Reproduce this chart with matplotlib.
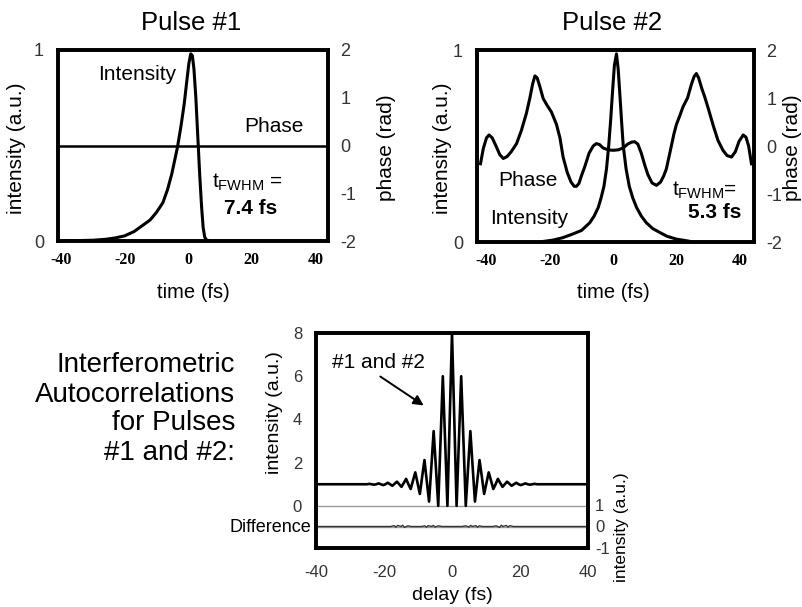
import matplotlib
matplotlib.use("Agg")
import matplotlib.pyplot as plt

plt.rcParams['font.family'] = ['Liberation Sans', 'DejaVu Sans']
plt.rcParams['mathtext.fontset'] = 'custom'
plt.rcParams['mathtext.rm'] = 'Liberation Sans'
plt.rcParams['mathtext.it'] = 'Liberation Sans'
plt.rcParams['axes.unicode_minus'] = False

# ---------------- data ----------------
# Pulse #1
p1_time = [-42, -35, -30, -26, -23, -20, -17, -14.5, -12, -10, -8, -6.5, -5.2, -4.3, -3.4, -2.3,
           -1.25, -0.5, 0.2, 0.8, 1.3, 1.8, 2.4, 3.0, 3.6, 4.2, 4.7, 5.2, 5.8, 7, 44]
p1_int = [0, 0.002, 0.004, 0.009, 0.016, 0.027, 0.05, 0.08, 0.11, 0.15, 0.2, 0.27, 0.35, 0.42, 0.49, 0.6,
          0.72, 0.83, 0.93, 0.98, 0.97, 0.9, 0.75, 0.55, 0.35, 0.18, 0.07, 0.02, 0.005, 0, 0]
p1_phase_t = [-41, 44]
p1_phase = [0, 0]

# Pulse #2
p2_time = [-22, -19, -16, -13, -11.5, -10, -8.7, -7.4, -6, -4.7, -3.8, -2.9, -2.1, -1.4, -0.8, -0.2,
           0.4, 1.05, 1.6, 2.2, 2.7, 3.2, 4.1, 5.1, 6.2, 7.4, 8.9, 10.5, 12.5, 14.7, 17, 20, 23.7]
p2_int = [0.003, 0.01, 0.022, 0.04, 0.05, 0.06, 0.08, 0.10, 0.135, 0.18, 0.23, 0.29, 0.38, 0.5, 0.63, 0.78,
          0.92, 0.98, 0.9, 0.75, 0.62, 0.5, 0.38, 0.29, 0.23, 0.18, 0.135, 0.10, 0.07, 0.05, 0.03, 0.015, 0.005]
p2_phase_t = [-41.9, -41.0, -40.0, -39.2, -38.2, -37.0, -35.8, -34.7, -33.5, -32.2, -30.5, -29.0, -27.4,
              -26.3, -25.4, -24.7, -24.0, -23.2, -22.1, -20.8, -19.5, -17.9, -16.8, -15.8, -14.5, -13.3,
              -12.3, -11.6, -10.8, -10.0, -8.9, -7.6, -6.3, -5.3, -4.3, -3.2, -1.6, 0, 1.6, 3.2, 4.6,
              5.8, 6.8, 7.8, 8.9, 10.0, 11.0, 12.3, 13.7, 15.0, 16.0, 16.8, 18.0, 19.2, 20.0, 21.0,
              22.1, 23.5, 24.8, 25.6, 26.3, 27.0, 28.0, 28.9, 30.2, 31.6, 33.1, 34.7, 36.0, 37.4,
              38.6, 39.8, 41.1, 42.0, 42.8, 43.7]
p2_phase = [-0.37, -0.05, 0.17, 0.23, 0.17, 0.0, -0.18, -0.26, -0.22, -0.12, 0.05, 0.32, 0.68,
            1.0, 1.3, 1.46, 1.42, 1.25, 0.99, 0.84, 0.71, 0.45, 0.17, -0.23, -0.55, -0.75,
            -0.84, -0.84, -0.78, -0.62, -0.42, -0.15, 0.0, 0.05, 0.03, -0.04, -0.08, -0.09, -0.08, -0.04, 0.04,
            0.08, 0.09, 0.04, -0.15, -0.40, -0.60, -0.77, -0.82, -0.75, -0.62, -0.48, -0.12, 0.25, 0.45, 0.62,
            0.82, 1.0, 1.3, 1.45, 1.51, 1.42, 1.2, 1.03, 0.75, 0.43, 0.12, -0.09, -0.2, -0.23,
            -0.12, 0.1, 0.23, 0.18, 0.0, -0.37]

# Interferometric autocorrelation (fringe extrema and mid-points)
ac_delay = [-40, -25.65, -24.975, -24.3, -23.625, -22.95, -22.275, -21.6, -20.925, -20.25, -19.575,
            -18.9, -18.225, -17.55, -16.875, -16.2, -15.525, -14.85, -14.175, -13.5, -12.825, -12.15,
            -11.475, -10.8, -10.125, -9.45, -8.775, -8.1, -7.425, -6.75, -6.075, -5.4, -4.725, -4.05,
            -3.375, -2.7, -2.025, -1.35, -0.675, 0, 0.675, 1.35, 2.025, 2.7, 3.375, 4.05, 4.725, 5.4,
            6.075, 6.75, 7.425, 8.1, 8.775, 9.45, 10.125, 10.8, 11.475, 12.15, 12.825, 13.5, 14.175,
            14.85, 15.525, 16.2, 16.875, 17.55, 18.225, 18.9, 19.575, 20.25, 20.925, 21.6, 22.275,
            22.95, 23.625, 24.3, 24.975, 25.65, 40]
ac_value = [1, 1, 1.0, 1.02, 1.0, 0.98, 1.0, 1.04, 1.0, 0.96, 1.0,
            1.07, 1.0, 0.93, 1.02, 1.12, 1.0, 0.88, 1.06, 1.25, 1.0, 0.78,
            1.17, 1.55, 1.05, 0.55, 1.35, 2.12, 1.15, 0.2, 1.8, 3.46, 1.75, 0.0,
            3.0, 6.0, 3.0, 0.0, 4.0, 8.0, 4.0, 0.0, 3.0, 6.0, 3.0, 0.0, 1.75, 3.46,
            1.8, 0.2, 1.15, 2.12, 1.35, 0.55, 1.05, 1.55, 1.17, 0.78, 1.0, 1.25, 1.06,
            0.88, 1.0, 1.12, 1.02, 0.93, 1.0, 1.07, 1.0, 0.96, 1.0, 1.04, 1.0,
            0.98, 1.0, 1.02, 1.0, 1, 1]

# Difference trace
diff_delay = [-40, -18, -17, -16.5, -16, -15, -14.5, -14, -13, -12, -9, -8, -7.5, -7, -6, -5.5, -5, -4, -3,
              3, 4, 5, 5.5, 6, 7, 7.5, 8, 9, 12, 13, 14, 14.5, 15, 16, 16.5, 17, 18, 40]
diff_value = [0, 0, 0.04, -0.03, 0.05, 0.0, 0.06, -0.04, 0.03, 0, 0, 0.03, -0.03, 0.04, 0.0, 0.05, -0.02, 0.03, 0,
              0, 0.03, -0.02, 0.05, 0.0, 0.04, -0.03, 0.03, 0, 0, 0.03, -0.04, 0.06, 0.0, 0.05, -0.03, 0.04, 0, 0]

x_ticks_top = [-40, -20, 0, 20, 40]
x_ticks_bot = [-40, -20, 0, 20, 40]

# ---------------- figure ----------------
W, H = 803, 607
fig = plt.figure(figsize=(W / 100, H / 100), dpi=100)


def rect(l, t, r, b):
    return [l / W, 1 - b / H, (r - l) / W, (b - t) / H]


def fx(px):
    return px / W


def fy(py):
    return 1 - py / H


TICKC = '#333333'
serif_bold = dict(family='Liberation Serif', weight='bold', size=11.5)


def top_panel(r, xlim):
    ax = fig.add_axes(r)
    ax2 = ax.twinx()
    ax.set_xlim(*xlim)
    ax.set_ylim(0, 1)
    ax2.set_ylim(-2, 2)
    ax.set_yticks([0, 1])
    ax2.set_yticks([-2, -1, 0, 1, 2])
    ax.set_xticks(x_ticks_top)
    ax.set_xticklabels([str(v) for v in x_ticks_top], fontdict=serif_bold)
    ax.tick_params(axis='x', length=0, pad=8, colors='black')
    ax.tick_params(axis='y', length=0, pad=10, labelsize=13, colors=TICKC)
    ax2.tick_params(axis='y', length=0, pad=9, labelsize=13, colors=TICKC)
    for a in (ax, ax2):
        for s in a.spines.values():
            s.set_linewidth(2.6)
            s.set_color('black')
    return ax, ax2


# Pulse #1
a1, a1p = top_panel(rect(58, 50, 328, 241), (-41, 44))
a1.plot(p1_time, p1_int, color='black', lw=2.2, solid_joinstyle='round')
a1p.plot(p1_phase_t, p1_phase, color='black', lw=1.8)

# Pulse #2
a2, a2p = top_panel(rect(477, 50, 754, 242), (-43, 44.5))
a2.plot(p2_time, p2_int, color='black', lw=2.2, solid_joinstyle='round')
a2p.plot(p2_phase_t, p2_phase, color='black', lw=2.2, solid_joinstyle='round')

# Titles and labels (top)
fig.text(fx(191), fy(23), 'Pulse #1', ha='center', va='center', fontsize=18.5)
fig.text(fx(612), fy(23), 'Pulse #2', ha='center', va='center', fontsize=18.5)
for xc in (17, 443):
    fig.text(fx(xc), fy(148), 'intensity (a.u.)', rotation=90, ha='center', va='center', fontsize=15)
fig.text(fx(387), fy(148), 'phase (rad)', rotation=90, ha='center', va='center', fontsize=15)
fig.text(fx(793), fy(148), 'phase (rad)', rotation=90, ha='center', va='center', fontsize=15)
for xc in (193, 613):
    fig.text(fx(xc), fy(293), 'time (fs)', ha='center', va='center', fontsize=14.5)

fig.text(fx(137), fy(75), 'Intensity', ha='center', va='center', fontsize=15)
fig.text(fx(274), fy(127), 'Phase', ha='center', va='center', fontsize=15)
fig.text(fx(247), fy(182), r't$_{\rm FWHM}$ =', ha='center', va='center', fontsize=15)
fig.text(fx(251), fy(208), '7.4 fs', ha='center', va='center', fontsize=15, weight='bold')

fig.text(fx(528), fy(180), 'Phase', ha='center', va='center', fontsize=15)
fig.text(fx(529), fy(218), 'Intensity', ha='center', va='center', fontsize=15)
fig.text(fx(705), fy(190), r't$_{\rm FWHM}$=', ha='center', va='center', fontsize=15)
fig.text(fx(715), fy(213), '5.3 fs', ha='center', va='center', fontsize=15, weight='bold')

# Bottom autocorrelation panel
a3 = fig.add_axes(rect(316, 333, 588, 548))
a3b = a3.twinx()
a3.set_xlim(-40, 40)
a3.set_ylim(-1.95, 8)
a3b.set_ylim(-0.95, 9)
a3.set_yticks([0, 2, 4, 6, 8])
a3b.set_yticks([-1, 0, 1])
a3.set_xticks(x_ticks_bot)
a3.tick_params(axis='x', length=0, pad=12, labelsize=12, colors=TICKC)
a3.tick_params(axis='y', length=0, pad=10, labelsize=12, colors=TICKC)
a3b.tick_params(axis='y', length=0, pad=5, labelsize=12, colors=TICKC)
for a in (a3, a3b):
    for s in a.spines.values():
        s.set_linewidth(2.6)
        s.set_color('black')

a3.axhline(0, color='#999999', lw=1.0)
a3.axhline(-1, color='#999999', lw=1.0)
a3.plot(ac_delay, ac_value, color='black', lw=1.9, solid_joinstyle='round')
a3b.plot(diff_delay, diff_value, color='#333333', lw=1.0)

fig.text(fx(275), fy(413), 'intensity (a.u.)', rotation=90, ha='center', va='center', fontsize=14)
fig.text(fx(622), fy(527), 'intensity (a.u.)', rotation=90, ha='center', va='center', fontsize=12.5)
fig.text(fx(452), fy(595), 'delay (fs)', ha='center', va='center', fontsize=14)
fig.text(fx(311), fy(528), 'Difference', ha='right', va='center', fontsize=13)
fig.text(fx(378), fy(362), '#1 and #2', ha='center', va='center', fontsize=15)
fig.add_artist(matplotlib.patches.FancyArrowPatch(
    (fx(378), fy(375)), (fx(426), fy(407)), transform=fig.transFigure,
    arrowstyle='-|>,head_length=6,head_width=3', color='black', lw=1.4))

fig.text(fx(235), fy(409), 'Interferometric\nAutocorrelations\nfor Pulses\n#1 and #2:',
         ha='right', va='center', multialignment='right', fontsize=20, linespacing=1.15)

fig.savefig('out.png', dpi=100)
